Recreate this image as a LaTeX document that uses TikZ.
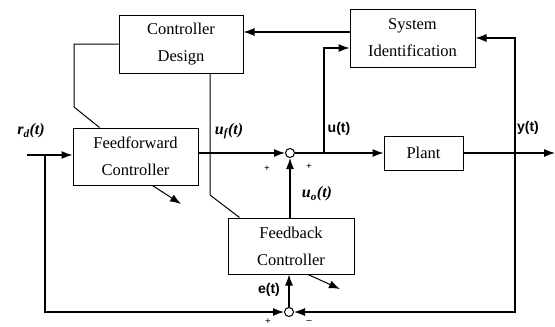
\documentclass[tikz,border=0pt]{standalone}
\usepackage{fontspec}
\setmainfont{Liberation Serif}
\newfontfamily\lsans{Liberation Sans}
\usetikzlibrary{arrows.meta,calc}
\begin{document}
\begin{tikzpicture}[x=1pt,y=-1pt,line width=1.2pt,
  arr/.style={-{Latex[length=11pt,width=8pt]}},
  blk/.style={draw,line width=1pt,inner sep=0pt,align=center,font=\fontsize{16.5}{27}\selectfont},
  sumj/.style={draw,circle,line width=1pt,minimum size=9pt,inner sep=0pt},
  sig/.style={font=\lsans\bfseries\fontsize{14}{14}\selectfont},
  msig/.style={font=\bfseries\itshape\fontsize{16}{16}\selectfont},
  pm/.style={font=\bfseries\fontsize{10}{10}\selectfont},
  sline/.style={line width=1pt}]
\useasboundingbox (0,0) rectangle (555,327);
% blocks
\node[blk,minimum width=124pt,minimum height=58pt] (CD) at (181,44) {Controller\\Design};
\node[blk,minimum width=125pt,minimum height=58pt] (SI) at (412.5,38) {System\\Identification};
\node[blk,minimum width=125pt,minimum height=57pt] (FF) at (135.5,156.5) {Feedforward\\Controller};
\node[blk,minimum width=126pt,minimum height=56pt] (FB) at (291,246) {Feedback\\Controller};
\node[blk,minimum width=79pt,minimum height=34pt] (PL) at (423.5,153) {Plant};
\node[sumj] (S1) at (290,153) {};
\node[sumj] (S2) at (289,312) {};
% points
\coordinate (rin) at (27,155);
\coordinate (bl) at (45,155);
\coordinate (ub) at (324,153);
\coordinate (yb) at (515,153);
\coordinate (yout) at (555,153);
\coordinate (c1) at (74,107);
\coordinate (c2) at (210,195);
\coordinate (t1) at (181,204);
\coordinate (t2) at (340,289);
% connectors
\draw[arr] (rin) -- (rin -| FF.west);
\draw[arr] (bl) |- (S2.west);
\draw[arr] (FF.east |- S1) -- (S1.west);
\draw[arr] (S1.east) -- (PL.west);
\draw[arr] (ub) |- ($(SI.west)+(0,10)$);
\draw[arr] ($(SI.west)+(0,-6)$) -- (CD.east |- 0,32);
\draw[arr] (PL.east) -- (yout);
\draw[arr] (yb) |- (SI.east);
\draw[arr] (yb) |- (S2.east);
\draw[arr] (S2.north) -- (S2 |- FB.south);
\draw[arr] (FB.north -| S1) -- (S1.south);
\draw[sline] (CD.west) -| (c1) -- ($(FF.north west)+(27,0)$);
\draw[sline] ($(CD.south)+(29,0)$) -- (c2) -- ($(FB.north west)+(12,0)$);
\draw[arr,sline] ($(FF.south)+(17,0)$) -- (t1);
\draw[arr,sline] ($(FB.south)+(17,0)$) -- (t2);
% labels
\node[msig] (lr) at (31,131) {r\textsubscript{d}(t)};
\node[msig] (luf) at (229,131) {u\textsubscript{f}(t)};
\node[msig] (luo) at (317,194) {u\textsubscript{o}(t)};
\node[sig] (lu) at (339,129) {u(t)};
\node[sig] (ly) at (528,128) {y(t)};
\node[sig] (le) at (269,290) {e(t)};
\node[pm] (p1) at (267,169) {+};
\node[pm] (p2) at (309,167) {+};
\node[pm] (p3) at (268,322) {+};
\node[pm] (p4) at (309,322) {\textendash};
\end{tikzpicture}
\end{document}
